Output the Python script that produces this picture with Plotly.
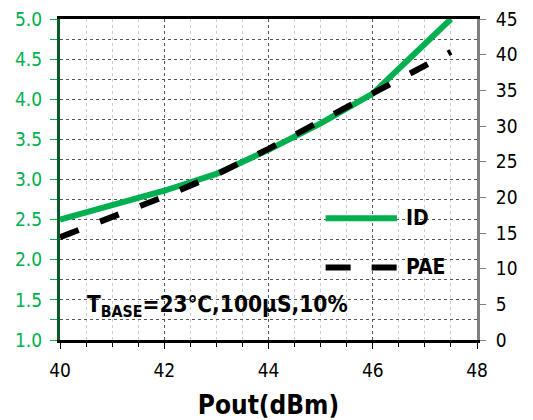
import plotly.graph_objects as go

pout_id = [40, 42, 43, 44, 45, 46, 47.5]
id_vals = [2.50, 2.86, 3.07, 3.37, 3.70, 4.07, 5.0]
pout_pae = [40, 42, 43, 44, 45, 46, 47.5]
pae_vals = [14.4, 20.1, 23.2, 26.8, 30.7, 34.6, 40.4]

x_ticks = [40, 42, 44, 46, 48]
GREEN = "#00B050"
FONT = "Tahoma, 'DejaVu Sans Condensed', 'DejaVu Sans', sans-serif"

fig = go.Figure()
fig.add_trace(go.Scatter(x=pout_id, y=id_vals, mode="lines", name="ID",
                         line=dict(color=GREEN, width=6), yaxis="y", showlegend=False))
fig.add_trace(go.Scatter(x=pout_pae, y=pae_vals, mode="lines", name="PAE",
                         line=dict(color="black", width=6, dash="20px,23px"), yaxis="y2",
                         showlegend=False))

fig.update_layout(
    width=533, height=420,
    margin=dict(l=59.5, r=55.5, t=18.5, b=79.5),
    paper_bgcolor="white", plot_bgcolor="white",
    font=dict(family=FONT, size=19, color="black"),
    xaxis=dict(range=[40, 48], tickvals=x_ticks, ticktext=[str(v) for v in x_ticks],
               automargin=False,
               showline=True, linecolor="black", linewidth=3, mirror=True,
               ticks="outside", ticklen=6, tickcolor="black", tickwidth=1,
               ticklabelstandoff=5,
               showgrid=True, gridcolor="#555555", griddash="dot", gridwidth=1,
               zeroline=False,
               minor=dict(dtick=0.5, showgrid=True, gridcolor="#cccccc", griddash="dot",
                          ticks="outside", ticklen=4, tickcolor="black"),
               title=dict(text="<b>Pout(dBm)</b>", font=dict(size=26), standoff=20),
               tickfont=dict(size=19)),
    yaxis=dict(range=[1, 5], dtick=0.5, tickformat=".1f", automargin=False,
               showline=True, linecolor="#0b5a2a", linewidth=3,
               ticks="outside", ticklen=7, tickcolor=GREEN,
               ticklabelstandoff=4,
               tickfont=dict(color=GREEN, size=19),
               showgrid=True, gridcolor="#555555", griddash="dot", gridwidth=1,
               zeroline=False,
               minor=dict(dtick=0.25, showgrid=True, gridcolor="#555555", griddash="dot",
                          ticks="outside", ticklen=7, tickcolor=GREEN)),
    yaxis2=dict(range=[0, 45], dtick=5, overlaying="y", side="right", automargin=False,
                showline=True, linecolor="#808080", linewidth=3,
                ticks="outside", ticklen=6, tickcolor="#808080",
                ticklabelstandoff=6,
                tickfont=dict(color="black", size=19), showgrid=False, zeroline=False),
)

# legend keys
fig.add_shape(type="line", xref="paper", yref="paper", x0=0.637, x1=0.808, y0=0.3795, y1=0.3795,
              line=dict(color=GREEN, width=6))
fig.add_shape(type="line", xref="paper", yref="paper", x0=0.637, x1=0.808, y0=0.226, y1=0.226,
              line=dict(color="black", width=6, dash="25px,21px"))
fig.add_annotation(xref="paper", yref="paper", x=0.825, y=0.3795, text="<b>ID</b>",
                   showarrow=False, xanchor="left", yanchor="middle", font=dict(size=21))
fig.add_annotation(xref="paper", yref="paper", x=0.825, y=0.226, text="<b>PAE</b>",
                   showarrow=False, xanchor="left", yanchor="middle", font=dict(size=21))
fig.add_annotation(xref="paper", yref="paper", x=0.06, y=0.105,
                   text="<b>T<sub>BASE</sub>=23℃,100μS,10%</b>",
                   showarrow=False, xanchor="left", yanchor="middle", font=dict(size=22.5))

fig.write_html("out.html")
